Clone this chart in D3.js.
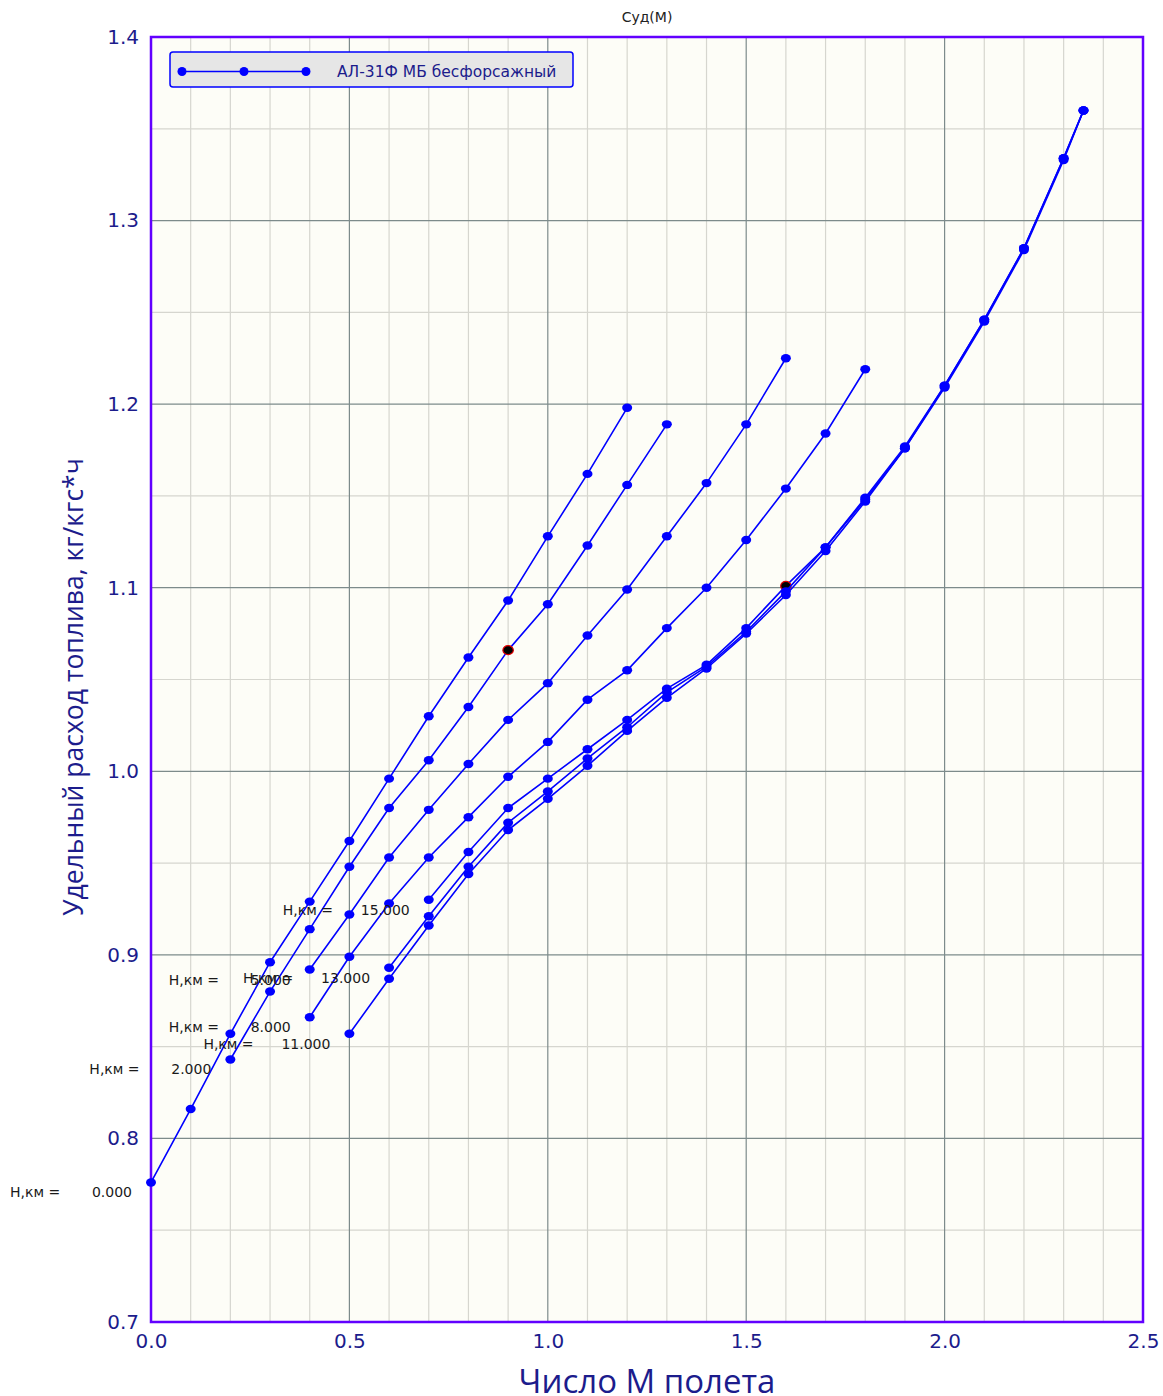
<!DOCTYPE html>
<html>
<head>
<meta charset="utf-8">
<script src="https://cdn.jsdelivr.net/npm/d3@7"></script>
<style>
  html, body { margin: 0; padding: 0; background: #ffffff; }
  svg { display: block; }
  text { font-family: "DejaVu Sans", sans-serif; }
</style>
</head>
<body>
<svg id="chart" width="1163" height="1396"></svg>
<script>
// Specific fuel consumption of АЛ-31Ф (dry) vs flight Mach number, by altitude
const altitudes = [0, 2, 5, 8, 11, 13, 15];

const machH0  = [0, 0.1, 0.2, 0.3, 0.4, 0.5, 0.6, 0.7, 0.8, 0.9, 1.0, 1.1, 1.2];
const cspH0   = [0.776, 0.816, 0.857, 0.896, 0.929, 0.962, 0.996, 1.030, 1.062, 1.093, 1.128, 1.162, 1.198];

const machH2  = [0.2, 0.3, 0.4, 0.5, 0.6, 0.7, 0.8, 0.9, 1.0, 1.1, 1.2, 1.3];
const cspH2   = [0.843, 0.880, 0.914, 0.948, 0.980, 1.006, 1.035, 1.066, 1.091, 1.123, 1.156, 1.189];

const machH5  = [0.4, 0.5, 0.6, 0.7, 0.8, 0.9, 1.0, 1.1, 1.2, 1.3, 1.4, 1.5, 1.6];
const cspH5   = [0.892, 0.922, 0.953, 0.979, 1.004, 1.028, 1.048, 1.074, 1.099, 1.128, 1.157, 1.189, 1.225];

const machH8  = [0.4, 0.5, 0.6, 0.7, 0.8, 0.9, 1.0, 1.1, 1.2, 1.3, 1.4, 1.5, 1.6, 1.7, 1.8];
const cspH8   = [0.866, 0.899, 0.928, 0.953, 0.975, 0.997, 1.016, 1.039, 1.055, 1.078, 1.100, 1.126, 1.154, 1.184, 1.219];

const machH11 = [0.5, 0.6, 0.7, 0.8, 0.9, 1.0, 1.1, 1.2, 1.3, 1.4, 1.5, 1.6, 1.7, 1.8, 1.9, 2.0, 2.1, 2.2, 2.3, 2.35];
const cspH11  = [0.857, 0.887, 0.916, 0.944, 0.968, 0.985, 1.003, 1.022, 1.040, 1.056, 1.075, 1.096, 1.120, 1.147, 1.176, 1.209, 1.245, 1.284, 1.333, 1.360];

const machH13 = [0.6, 0.7, 0.8, 0.9, 1.0, 1.1, 1.2, 1.3, 1.4, 1.5, 1.6, 1.7, 1.8, 1.9, 2.0, 2.1, 2.2, 2.3, 2.35];
const cspH13  = [0.893, 0.921, 0.948, 0.972, 0.989, 1.007, 1.024, 1.043, 1.057, 1.076, 1.098, 1.122, 1.148, 1.176, 1.210, 1.246, 1.285, 1.334, 1.360];

const machH15 = [0.7, 0.8, 0.9, 1.0, 1.1, 1.2, 1.3, 1.4, 1.5, 1.6, 1.7, 1.8, 1.9, 2.0, 2.1, 2.2, 2.3, 2.35];
const cspH15  = [0.930, 0.956, 0.980, 0.996, 1.012, 1.028, 1.045, 1.058, 1.078, 1.101, 1.122, 1.149, 1.177, 1.210, 1.246, 1.285, 1.334, 1.360];

// Marked (current) operating points: [altitude, Mach, Cуд]
const markedPoints = [[2, 0.9, 1.066], [15, 1.6, 1.101]];

const xTicks = [0, 0.5, 1.0, 1.5, 2.0, 2.5];
const yTicks = [0.7, 0.8, 0.9, 1.0, 1.1, 1.2, 1.3, 1.4];

const chartTitle = "Суд(М)";
const xTitle = "Число М полета";
const yTitle = "Удельный расход топлива, кг/кгс*ч";
const legendName = "АЛ-31Ф МБ бесфорсажный";
const altPrefix = "Н,км =";

const series = [
  { h: 0,  mach: machH0,  csp: cspH0 },
  { h: 2,  mach: machH2,  csp: cspH2 },
  { h: 5,  mach: machH5,  csp: cspH5 },
  { h: 8,  mach: machH8,  csp: cspH8 },
  { h: 11, mach: machH11, csp: cspH11 },
  { h: 13, mach: machH13, csp: cspH13 },
  { h: 15, mach: machH15, csp: cspH15 }
].map(s => ({ h: s.h, pts: s.mach.map((m, i) => [m, s.csp[i]]) }));

const svg = d3.select("#chart");
const plot = { left: 151, top: 37, right: 1143, bottom: 1322 };

const x = d3.scaleLinear().domain([0, 2.5]).range([plot.left, plot.right]);
const y = d3.scaleLinear().domain([0.7, 1.4]).range([plot.bottom, plot.top]);

const navy = "#1c1c8c";
const lineBlue = "#0000ff";
const frame = "#6200ff";

// plot background
svg.append("rect")
  .attr("x", plot.left).attr("y", plot.top)
  .attr("width", plot.right - plot.left).attr("height", plot.bottom - plot.top)
  .attr("fill", "#fdfdf7");

// grid: minor every 0.1 M / 0.05 Cуд, major every 0.5 M / 0.1 Cуд
const grid = svg.append("g");
const minorX = d3.range(1, 25).map(i => i / 10).filter(v => Math.abs(v * 2 - Math.round(v * 2)) > 1e-6);
const minorY = d3.range(1, 14).map(i => +(0.7 + i * 0.05).toFixed(2)).filter(v => Math.abs(v * 10 - Math.round(v * 10)) > 1e-6);
grid.selectAll(".mx").data(minorX).join("line")
  .attr("x1", d => x(d)).attr("x2", d => x(d))
  .attr("y1", plot.top).attr("y2", plot.bottom)
  .attr("stroke", "#d6d6cf").attr("stroke-width", 1.2);
grid.selectAll(".my").data(minorY).join("line")
  .attr("x1", plot.left).attr("x2", plot.right)
  .attr("y1", d => y(d)).attr("y2", d => y(d))
  .attr("stroke", "#d6d6cf").attr("stroke-width", 1.2);
grid.selectAll(".Mx").data(xTicks.slice(1, -1)).join("line")
  .attr("x1", d => x(d)).attr("x2", d => x(d))
  .attr("y1", plot.top).attr("y2", plot.bottom)
  .attr("stroke", "#7d8b8b").attr("stroke-width", 1.2);
grid.selectAll(".My").data(yTicks.slice(1, -1)).join("line")
  .attr("x1", plot.left).attr("x2", plot.right)
  .attr("y1", d => y(d)).attr("y2", d => y(d))
  .attr("stroke", "#7d8b8b").attr("stroke-width", 1.2);

// axes (labels only; the frame is drawn separately)
const xAxis = svg.append("g")
  .attr("transform", `translate(0,${plot.bottom})`)
  .call(d3.axisBottom(x).tickValues(xTicks).tickFormat(d3.format(".1f")).tickSize(0).tickPadding(12));
const yAxis = svg.append("g")
  .attr("transform", `translate(${plot.left},0)`)
  .call(d3.axisLeft(y).tickValues(yTicks).tickFormat(d3.format(".1f")).tickSize(0).tickPadding(12));
[xAxis, yAxis].forEach(a => {
  a.select(".domain").remove();
  a.selectAll("text")
    .attr("fill", navy)
    .style("font-family", "'DejaVu Sans', sans-serif")
    .style("font-size", "20px");
});

// frame
svg.append("rect")
  .attr("x", plot.left).attr("y", plot.top)
  .attr("width", plot.right - plot.left).attr("height", plot.bottom - plot.top)
  .attr("fill", "none").attr("stroke", frame).attr("stroke-width", 2.5);

// titles
svg.append("text")
  .attr("x", 647).attr("y", 18)
  .attr("text-anchor", "middle").attr("dominant-baseline", "middle")
  .style("font-size", "14px").attr("fill", "#222")
  .text(chartTitle);

svg.append("text")
  .attr("x", 647).attr("y", 1393)
  .attr("text-anchor", "middle")
  .style("font-family", "'Open Sans', sans-serif")
  .style("font-size", "33px").attr("fill", navy)
  .text(xTitle);

svg.append("text")
  .attr("transform", "translate(83,687) rotate(-90)")
  .attr("text-anchor", "middle")
  .style("font-family", "'Open Sans', sans-serif")
  .style("font-size", "26.5px").attr("fill", navy)
  .text(yTitle);

// series
const line = d3.line().x(d => x(d[0])).y(d => y(d[1]));
const seriesLayer = svg.append("g");
// higher altitudes first so the lower-altitude curves sit on top
const drawOrder = series.slice().reverse();
drawOrder.forEach(s => {
  const g = seriesLayer.append("g");
  g.append("path")
    .datum(s.pts)
    .attr("d", line)
    .attr("fill", "none")
    .attr("stroke", lineBlue)
    .attr("stroke-width", 1.6);
  g.selectAll("ellipse").data(s.pts).join("ellipse")
    .attr("cx", d => x(d[0])).attr("cy", d => y(d[1]))
    .attr("rx", 5).attr("ry", 4.2)
    .attr("fill", lineBlue);
  markedPoints.filter(p => p[0] === s.h).forEach(p => {
    g.append("ellipse")
      .attr("cx", x(p[1])).attr("cy", y(p[2]))
      .attr("rx", 5.2).attr("ry", 4.5)
      .attr("fill", "#000").attr("stroke", "#e00000").attr("stroke-width", 1.2);
  });
});

// altitude labels next to the first point of each curve
const labels = svg.append("g").style("font-size", "14px").attr("fill", "#1a1a1a");
series.forEach(s => {
  const p0 = s.pts[0];
  const px = x(p0[0]), py = y(p0[1]) + 11;
  const val = d3.format(".3f")(s.h);
  labels.append("text")
    .attr("x", px - 19).attr("y", py)
    .attr("text-anchor", "end").attr("dominant-baseline", "middle")
    .text(val);
  labels.append("text")
    .attr("x", px - 141 - (val.length - 5) * 5).attr("y", py)
    .attr("dominant-baseline", "middle")
    .text(altPrefix);
});

// legend
const lg = svg.append("g");
lg.append("rect")
  .attr("x", 170).attr("y", 52).attr("width", 403).attr("height", 35).attr("rx", 3)
  .attr("fill", "#e6e6e6").attr("stroke", lineBlue).attr("stroke-width", 1.5);
lg.append("line")
  .attr("x1", 182).attr("x2", 306).attr("y1", 71.5).attr("y2", 71.5)
  .attr("stroke", lineBlue).attr("stroke-width", 1.5);
lg.selectAll("circle").data([182, 244, 306]).join("circle")
  .attr("cx", d => d).attr("cy", 71.5).attr("r", 4.5).attr("fill", lineBlue);
lg.append("text")
  .attr("x", 337).attr("y", 72.5)
  .attr("dominant-baseline", "middle")
  .style("font-size", "15.5px").attr("fill", navy)
  .text(legendName);
</script>
</body>
</html>
